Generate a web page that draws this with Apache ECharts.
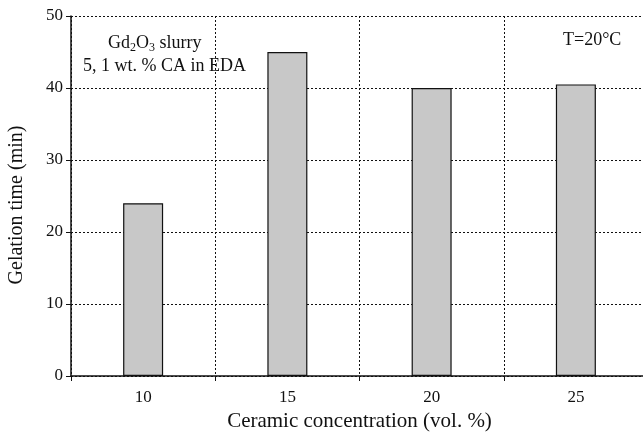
<!DOCTYPE html>
<html><head><meta charset="utf-8">
<script src="https://cdn.jsdelivr.net/npm/echarts@6/dist/echarts.min.js"></script>
<style>html,body{margin:0;padding:0;background:#fff}#c{width:643px;height:436px}</style>
</head><body><div id="c"></div>
<script>
const categories = ['10', '15', '20', '25'];
const gelationTime = [24, 45, 40, 40.5];
const yTicks = [0, 10, 20, 30, 40, 50];

const F = '"Liberation Serif", "DejaVu Serif", serif';
const chart = echarts.init(document.getElementById('c'), null, {renderer: 'canvas'});
chart.setOption({
  animation: false,
  backgroundColor: '#fff',
  grid: {left: 71, top: 16, width: 577, height: 360, outerBoundsMode: 'none', containLabel: false},
  xAxis: {
    type: 'category', data: categories, boundaryGap: true,
    name: 'Ceramic concentration (vol. %)', nameLocation: 'middle', nameGap: 31,
    nameTextStyle: {fontFamily: F, fontSize: 21, color: '#111'},
    axisLine: {lineStyle: {color: '#111', width: 1.5}},
    axisTick: {show: true, length: 5, lineStyle: {color: '#111'}},
    axisLabel: {fontFamily: F, fontSize: 17, color: '#111', margin: 13},
    splitLine: {show: true, lineStyle: {color: '#111', type: [2, 2], width: 1}}
  },
  yAxis: {
    type: 'value', min: yTicks[0], max: yTicks[yTicks.length - 1], interval: 10,
    axisLine: {show: true, lineStyle: {color: '#111', width: 1.5}},
    axisTick: {show: true, length: 5, lineStyle: {color: '#111'}},
    axisLabel: {fontFamily: F, fontSize: 17, color: '#111', margin: 8},
    splitLine: {show: true, lineStyle: {color: '#111', type: [2, 2], width: 1}}
  },
  series: [{
    type: 'bar', data: gelationTime, barWidth: 40,
    itemStyle: {color: '#c8c8c8', borderColor: '#111', borderWidth: 1.2}
  }],
  graphic: [
    {type: 'text', x: 17, y: 205, rotation: Math.PI / 2, z: 10,
     style: {text: 'Gelation time (min)', fontFamily: F, fontSize: 20, fill: '#111',
       align: 'center', verticalAlign: 'middle'}},
    {type: 'text', left: 108, top: 34, z: 10,
     style: {text: '{n|Gd}{s|2}{n|O}{s|3}{n| slurry}', fill: '#111',
       rich: {n: {fontFamily: F, fontSize: 18, fill: '#111'},
              s: {fontFamily: F, fontSize: 12, fill: '#111', verticalAlign: 'bottom', padding: [10, 0, 0, 0]}}}},
    {type: 'text', left: 83, top: 57, z: 10,
     style: {text: '5, 1 wt. % CA in EDA', fontFamily: F, fontSize: 18, fill: '#111'}},
    {type: 'text', left: 563, top: 31, z: 10,
     style: {text: 'T=20°C', fontFamily: F, fontSize: 18, fill: '#111'}}
  ]
});
</script></body></html>
